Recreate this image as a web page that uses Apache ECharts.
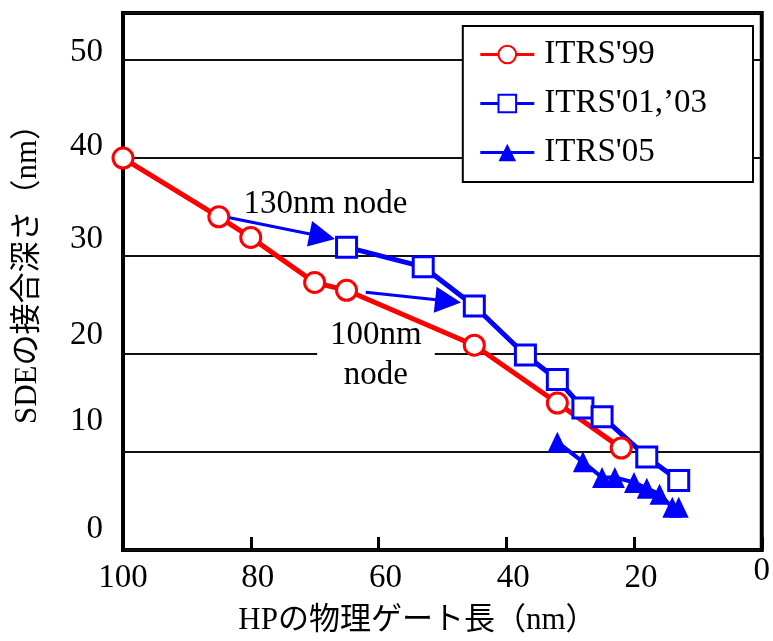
<!DOCTYPE html>
<html>
<head>
<meta charset="utf-8">
<script src="https://cdn.jsdelivr.net/npm/echarts@6/dist/echarts.min.js"></script>
<style>
  html, body { margin: 0; padding: 0; background: #fff; }
  #chart { width: 773px; height: 641px; }
</style>
</head>
<body>
<div id="chart"></div>
<script>
// SDE junction depth versus HP physical gate length, per ITRS edition
const seriesNames = ["ITRS'99", "ITRS'01,’03", "ITRS'05"];

const gate99 = [100, 85, 80, 70, 65, 45, 32, 22];
const sde99  = [40, 34, 31.9, 27.3, 26.5, 20.9, 15.0, 10.4];

const gate0103 = [65, 53, 45, 37, 32, 28, 25, 18, 13];
const sde0103  = [30.9, 28.9, 24.9, 19.9, 17.4, 14.5, 13.6, 9.5, 7.1];

const gate05 = [32, 28, 25, 23, 20, 18, 16, 14, 13];
const sde05  = [11.0, 9.0, 7.4, 7.4, 6.9, 6.3, 5.7, 4.35, 4.35];

const xTicks = [100, 80, 60, 40, 20, 0];
const yTicks = [0, 10, 20, 30, 40, 50];

// node-shift arrows: [gate length, depth] at tail and head
const arrowFrom = [[83.3, 33.9], [62.0, 26.3]];
const arrowTo   = [[68.8, 32.0], [49.1, 25.4]];

const nodeLabels  = ['130nm node', '100nm\nnode'];
const nodeLabelAt = [[68.3, 35.3], [60.4, 19.9]];

const FONT = "'Liberation Serif', 'Noto Sans CJK JP', serif";
const RED = '#ff0000';
const BLUE = '#0000ff';

const pairs = (xs, ys) => xs.map((x, i) => [x, ys[i]]);

// y tick labels sit a little above their grid lines
const yLift = { 0: 21, 10: 31, 20: 19, 30: 17, 40: 12, 50: 8 };
const yRich = {};
yTicks.forEach(v => {
  yRich['y' + v] = { fontSize: 33, fontFamily: FONT, color: '#000', padding: [0, 0, 2 * yLift[v], 0] };
});

const xRich = {
  mid: { fontSize: 33, fontFamily: FONT, color: '#000', padding: [11, 0, 0, 14] },
  end: { fontSize: 33, fontFamily: FONT, color: '#000', padding: [11, 0, 0, 0] },
  zero: { fontSize: 33, fontFamily: FONT, color: '#000', padding: [4, 0, 0, 0] }
};

const chart = echarts.init(document.getElementById('chart'), null, { renderer: 'canvas' });

chart.setOption({
  animation: false,
  backgroundColor: '#fff',
  grid: {
    left: 123, right: 9, top: 13, bottom: 88,
    show: true, borderColor: '#000', borderWidth: 4, backgroundColor: 'transparent'
  },
  legend: {
    data: seriesNames,
    orient: 'vertical',
    right: 20, top: 26,
    backgroundColor: '#fff',
    borderColor: '#000', borderWidth: 2, borderRadius: 0,
    padding: [12, 46, 13, 16],
    itemWidth: 54, itemHeight: 22, itemGap: 16,
    lineStyle: { width: 3 },
    textStyle: { fontSize: 33, fontFamily: FONT, color: '#000', padding: [0, 0, 0, 5] }
  },
  xAxis: {
    type: 'value',
    inverse: true,
    min: 0, max: 100, interval: 20,
    name: 'HPの物理ゲート長（nm）',
    nameLocation: 'middle',
    nameGap: 55,
    nameTextStyle: { fontSize: 31, fontFamily: FONT, color: '#000', padding: [0, 50, 0, 0] },
    axisLine: { show: false },
    axisTick: { show: true, inside: true, length: 13, lineStyle: { color: '#000', width: 3 } },
    splitLine: { show: false },
    axisLabel: {
      margin: 1,
      formatter: v => {
        if (!xTicks.includes(v)) return '';
        if (v === 0) return '{zero|0}';
        if (v === 100) return '{end|100}';
        return '{mid|' + v + '}';
      },
      rich: xRich
    }
  },
  yAxis: {
    type: 'value',
    min: 0, max: 54.8, interval: 10,
    name: 'SDEの接合深さ（nm）',
    nameLocation: 'middle',
    nameGap: 80,
    nameTextStyle: { fontSize: 31, fontFamily: FONT, color: '#000', padding: [0, 0, 0, 30] },
    axisLine: { show: false },
    axisTick: { show: false },
    splitLine: { show: true, lineStyle: { color: '#111', width: 2 } },
    axisLabel: {
      margin: 20,
      showMaxLabel: false,
      formatter: v => (yTicks.includes(v) ? '{y' + v + '|' + v + '}' : ''),
      rich: yRich
    }
  },
  series: [
    {
      name: seriesNames[0],
      type: 'line',
      data: pairs(gate99, sde99),
      symbol: 'circle', symbolSize: 20,
      lineStyle: { color: RED, width: 5 },
      itemStyle: { color: '#fff', borderColor: RED, borderWidth: 3 },
      emphasis: { disabled: true },
      z: 3
    },
    {
      name: seriesNames[1],
      type: 'line',
      data: pairs(gate0103, sde0103),
      symbol: 'rect', symbolSize: 20,
      lineStyle: { color: BLUE, width: 5 },
      itemStyle: { color: '#fff', borderColor: BLUE, borderWidth: 3 },
      emphasis: { disabled: true },
      z: 3
    },
    {
      name: seriesNames[2],
      type: 'line',
      data: pairs(gate05, sde05),
      symbol: 'triangle', symbolSize: [20, 21],
      lineStyle: { color: BLUE, width: 4 },
      itemStyle: { color: BLUE, borderColor: BLUE, borderWidth: 0 },
      emphasis: { disabled: true },
      z: 3
    },
    {
      // annotation layer: node arrows and their captions
      name: 'nodes',
      type: 'line',
      data: [],
      silent: true,
      z: 2,
      markLine: {
        silent: true,
        z: 4,
        symbol: ['none', 'triangle'],
        symbolSize: 26,
        label: { show: false },
        lineStyle: { color: BLUE, width: 3, type: 'solid' },
        emphasis: { disabled: true },
        data: arrowFrom.map((p, i) => [{ coord: p }, { coord: arrowTo[i] }])
      },
      markPoint: {
        silent: true,
        z: 1,
        symbol: 'rect',
        symbolSize: 1,
        itemStyle: { color: 'transparent' },
        label: {
          show: true,
          position: 'inside',
          fontSize: 33,
          fontFamily: FONT,
          color: '#000',
          lineHeight: 40,
          align: 'center',
          verticalAlign: 'middle'
        },
        data: nodeLabelAt.map((p, i) => ({
          coord: p,
          value: nodeLabels[i],
          label: Object.assign(
            { formatter: nodeLabels[i] },
            i === 1 ? { backgroundColor: '#fff', padding: [2, 13, 2, 13] } : {}
          )
        }))
      }
    }
  ]
});
</script>
</body>
</html>
